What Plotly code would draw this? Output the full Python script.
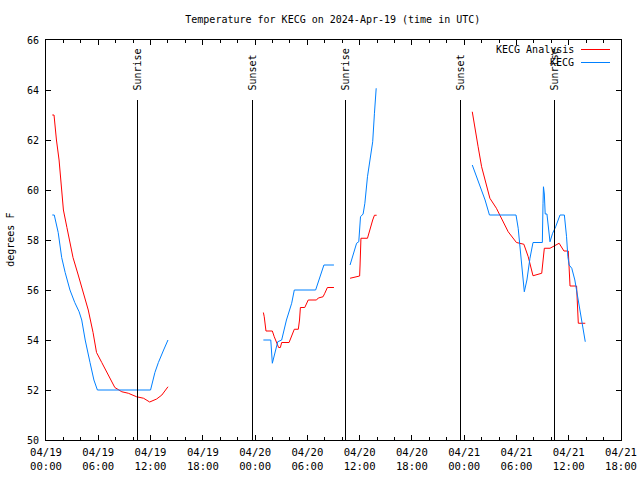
import pandas as pd
import plotly.graph_objects as go

BASE = pd.Timestamp("2024-04-19 00:00")
FONT = "DejaVu Sans Mono"

# KECG Analysis (red) - hours since 04/19 00:00 UTC, degrees F; None = gap
analysis_hours = [
    0.72, 0.92, 1.2, 1.5, 1.7, 2.0, 2.4, 2.75, 3.1, 3.7, 4.3, 4.85, 5.4, 5.8, 6.4, 7.0, 7.9,
    8.7, 9.45, 10.4, 11.2, 11.9, 12.7, 13.3, 14.0, None,
    24.95, 25.05, 25.25, 25.98, 26.2, 26.5, 26.7, 26.9, 27.05, 27.9, 28.2, 28.5, 28.96, 29.1,
    29.2, 29.7, 30.1, 31.05, 31.25, 31.8, 32.0, 32.3, 33.05, None,
    34.9, 35.5, 36.0, 36.05, 36.15, 36.9, 37.0, 37.25, 37.5, 37.7, 37.95, None,
    48.93, 49.25, 49.6, 50.0, 50.6, 50.95, 51.7, 52.3, 53.05, 54.0, 54.85, 55.35, 55.9, 56.9,
    57.05, 57.2, 57.85, 58.4, 58.9, 59.45, 59.95, 60.15, 60.9, 61.1, 61.9,
]
analysis_temp = [
    63.0, 63.0, 62.0, 61.2, 60.4, 59.2, 58.5, 57.9, 57.3, 56.6, 55.9, 55.2, 54.3, 53.5, 53.1, 52.7, 52.1,
    51.93, 51.87, 51.73, 51.67, 51.52, 51.64, 51.8, 52.13, None,
    55.1, 54.93, 54.36, 54.36, 54.13, 53.87, 53.7, 53.7, 53.9, 53.9, 54.13, 54.43, 54.43, 54.8,
    55.3, 55.3, 55.6, 55.6, 55.68, 55.73, 55.87, 56.1, 56.1, None,
    56.47, 56.53, 56.56, 57.0, 58.07, 58.07, 58.2, 58.53, 58.8, 58.99, 58.99, None,
    63.13, 62.53, 61.73, 60.93, 60.13, 59.67, 59.27, 58.87, 58.33, 57.9, 57.83, 57.33, 56.57, 56.67,
    57.07, 57.67, 57.67, 57.76, 57.87, 57.56, 57.56, 56.16, 56.16, 54.67, 54.67,
]

# KECG observations (blue)
obs_hours = [
    0.72, 0.95, 1.4, 1.8, 2.2, 2.75, 3.3, 3.8, 4.1, 4.5, 5.05, 5.5, 5.9, 12.0, 12.5, 12.9, 13.5, 14.0, None,
    24.95, 25.8, 25.98, 26.3, 26.6, 27.05, 27.6, 28.2, 28.5, 30.95, 31.45, 31.9, 33.05, None,
    34.9, 35.3, 35.65, 35.9, 36.1, 36.4, 36.6, 36.9, 37.2, 37.5, 37.7, 37.8, 37.9, None,
    48.93, 49.45, 50.0, 50.4, 50.9, 53.95, 54.2, 54.4, 54.7, 54.9, 55.2, 55.55, 55.9, 56.97,
    57.05, 57.1, 57.2, 57.3, 57.5, 57.85, 58.15, 58.5, 59.0, 59.5, 59.75, 59.9, 60.05, 60.35,
    60.7, 60.95, 61.2, 61.5, 61.9,
]
obs_temp = [
    59.0, 59.0, 58.3, 57.3, 56.7, 56.0, 55.5, 55.13, 54.8, 54.0, 53.1, 52.4, 52.0, 52.0, 52.7, 53.1, 53.6, 54.0, None,
    54.0, 54.0, 53.07, 53.47, 53.93, 54.0, 54.8, 55.47, 56.0, 56.0, 56.53, 57.0, 57.0, None,
    57.0, 57.47, 57.87, 57.93, 58.93, 59.04, 59.47, 60.53, 61.2, 61.93, 63.07, 63.6, 64.07, None,
    61.0, 60.53, 60.0, 59.6, 59.0, 59.0, 58.47, 57.73, 56.93, 55.93, 56.4, 57.27, 57.9, 57.9,
    59.47, 60.13, 59.84, 59.04, 59.04, 57.93, 58.27, 58.53, 59.0, 59.0, 58.13, 57.33, 57.0, 56.87,
    56.4, 55.87, 55.33, 54.67, 53.93,
]

# Sun events (hours since 04/19 00:00 UTC)
event_hours = [10.45, 23.65, 34.43, 47.63, 58.42]
event_labels = ["Sunrise", "Sunset", "Sunrise", "Sunset", "Sunrise"]
event_line_top = 63.6
event_label_base = 63.9

series_names = ["KECG Analysis", "KECG"]
series_colors = ["#ff0000", "#0080ff"]


def to_time(hours):
    return [None if h is None else BASE + pd.Timedelta(hours=h) for h in hours]


fig = go.Figure()
fig.add_trace(go.Scatter(x=to_time(analysis_hours), y=analysis_temp, mode="lines",
                         line=dict(color=series_colors[0], width=1), name=series_names[0],
                         connectgaps=False, showlegend=False, hoverinfo="skip"))
fig.add_trace(go.Scatter(x=to_time(obs_hours), y=obs_temp, mode="lines",
                         line=dict(color=series_colors[1], width=1), name=series_names[1],
                         connectgaps=False, showlegend=False, hoverinfo="skip"))

shapes = []
annotations = []
for h, lab in zip(event_hours, event_labels):
    t = BASE + pd.Timedelta(hours=h)
    shapes.append(dict(type="line", xref="x", yref="y", x0=t, x1=t, y0=50, y1=event_line_top,
                       line=dict(color="black", width=1)))
    annotations.append(dict(xref="x", yref="y", x=t, y=event_label_base, text=lab, textangle=-90,
                            showarrow=False, xanchor="center", yanchor="bottom",
                            font=dict(family=FONT, size=10, color="black")))

# custom gnuplot-style legend (text left of line sample)
legend_rows = [0.977, 0.944]
for name, color, yy in zip(series_names, series_colors, legend_rows):
    annotations.append(dict(xref="paper", yref="paper", x=0.921, y=yy, text=name, showarrow=False,
                            xanchor="right", yanchor="middle",
                            font=dict(family=FONT, size=10, color="black")))
    shapes.append(dict(type="line", xref="paper", yref="paper", x0=0.930, x1=0.981, y0=yy, y1=yy,
                       line=dict(color=color, width=1)))

annotations.append(dict(xref="paper", yref="paper", x=-0.063, y=0.5, text="degrees F", textangle=-90,
                        showarrow=False, xanchor="center", yanchor="middle",
                        font=dict(family=FONT, size=10, color="black")))

fig.update_layout(
    width=640, height=480,
    margin=dict(l=46, r=19, t=40, b=40, pad=0),
    paper_bgcolor="white", plot_bgcolor="white",
    font=dict(family=FONT, size=10, color="black"),
    title=dict(text="Temperature for KECG on 2024-Apr-19 (time in UTC)", x=0.52, xanchor="center",
               y=0.96, yanchor="middle", font=dict(family=FONT, size=10, color="black")),
    shapes=shapes, annotations=annotations, showlegend=False, hovermode=False,
)
fig.update_xaxes(
    type="date", range=[BASE, BASE + pd.Timedelta(hours=66)],
    tickformat="%m/%d<br>%H:%M", dtick=6 * 3600 * 1000, tick0=BASE,
    tickfont=dict(family=FONT, size=10.6, color="black"),
    ticks="inside", ticklen=5, tickcolor="black", tickwidth=1,
    minor=dict(dtick=2 * 3600 * 1000, ticks="inside", ticklen=3, tickcolor="black", showgrid=False),
    showline=True, linecolor="black", linewidth=1, mirror="allticks",
    showgrid=False, zeroline=False, automargin=False, ticklabelstandoff=2,
)
fig.update_yaxes(
    range=[50, 66], dtick=2, tick0=50,
    ticks="inside", ticklen=5, tickcolor="black", tickwidth=1,
    showline=True, linecolor="black", linewidth=1, mirror="allticks",
    showgrid=False, zeroline=False, ticklabelstandoff=4, automargin=False,
)

post = (
    "document.body.style.margin='0';document.body.style.overflow='hidden';"
    "var st=document.createElement('style');"
    "st.textContent='.shapelayer path{shape-rendering:crispEdges;}';"
    "document.head.appendChild(st);"
)
fig.write_html(
    "out.html",
    config={"displayModeBar": False, "staticPlot": True},
    post_script=post,
)
